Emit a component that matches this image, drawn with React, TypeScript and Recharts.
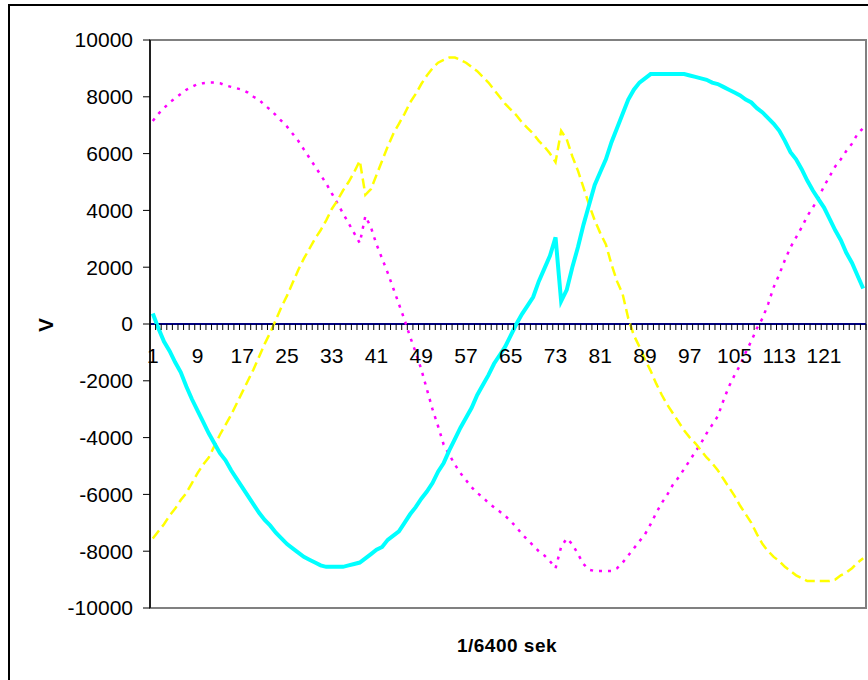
import { LineChart, Line, XAxis, YAxis, ReferenceLine } from 'recharts';

// sample numbers 1..128 (one 50 Hz period at 6400 samples/s)
const samples = Array.from({ length: 128 }, (_, i) => i + 1);
const labeledSamples = [1, 9, 17, 25, 33, 41, 49, 57, 65, 73, 81, 89, 97, 105, 113, 121];
const voltTicks = [-10000, -8000, -6000, -4000, -2000, 0, 2000, 4000, 6000, 8000, 10000];

const phaseCyan = [
  370, -150, -620, -950, -1350, -1700, -2200, -2650, -3050, -3450,
  -3850, -4200, -4550, -4800, -5150, -5450, -5750, -6050, -6350, -6650,
  -6900, -7100, -7350, -7550, -7750, -7900, -8050, -8200, -8300, -8400,
  -8500, -8550, -8550, -8550, -8550, -8500, -8450, -8400, -8250, -8100,
  -7950, -7850, -7600, -7450, -7300, -7000, -6700, -6450, -6150, -5900,
  -5600, -5200, -4900, -4450, -4050, -3650, -3300, -2950, -2500, -2150,
  -1800, -1400, -1100, -800, -400, 0, 350, 650, 950, 1500,
  1950, 2400, 3050, 800, 1200, 2000, 2700, 3500, 4200, 4900,
  5350, 5800, 6400, 6900, 7400, 7900, 8250, 8500, 8650, 8800,
  8800, 8800, 8800, 8800, 8800, 8800, 8750, 8700, 8650, 8600,
  8500, 8450, 8350, 8250, 8150, 8050, 7900, 7800, 7600, 7450,
  7250, 7050, 6800, 6450, 6050, 5800, 5450, 5050, 4700, 4400,
  4100, 3700, 3300, 2950, 2500, 2150, 1700, 1250,
];

const phaseMagenta = [
  7150, 7400, 7600, 7800, 7950, 8100, 8250, 8350, 8450, 8480,
  8500, 8500, 8480, 8400, 8350, 8300, 8250, 8150, 8000, 7900,
  7700, 7550, 7350, 7150, 6950, 6700, 6450, 6150, 5850, 5550,
  5250, 4950, 4600, 4250, 3900, 3550, 3200, 2850, 3800, 3400,
  2800, 2300, 1800, 1250, 700, 150, -450, -1000, -1600, -2300,
  -3000, -3600, -4250, -4600, -4950, -5250, -5500, -5750, -5950, -6100,
  -6300, -6450, -6600, -6750, -6950, -7150, -7400, -7600, -7800, -8000,
  -8150, -8350, -8600, -7850, -7550, -7750, -8100, -8450, -8650, -8700,
  -8700, -8700, -8700, -8600, -8400, -8150, -7900, -7650, -7400, -7050,
  -6650, -6300, -6000, -5650, -5400, -5100, -4800, -4500, -4200, -3850,
  -3550, -3250, -2700, -2200, -1800, -1450, -1000, -600, -150, 200,
  700, 1300, 1750, 2250, 2700, 3050, 3400, 3800, 4100, 4450,
  4850, 5200, 5550, 5800, 6100, 6350, 6700, 6900,
];

const phaseYellow = [
  -7550, -7300, -7050, -6750, -6500, -6200, -5950, -5600, -5250, -4950,
  -4700, -4300, -3900, -3550, -3200, -2800, -2400, -2000, -1600, -1150,
  -700, -300, 150, 600, 1000, 1450, 1900, 2300, 2650, 3000,
  3300, 3650, 4050, 4350, 4700, 5000, 5350, 5750, 4550, 4750,
  5250, 5750, 6250, 6700, 7050, 7400, 7800, 8100, 8450, 8750,
  9000, 9200, 9300, 9380, 9380, 9300, 9200, 9050, 8900, 8700,
  8500, 8250, 8000, 7750, 7550, 7350, 7100, 6900, 6700, 6450,
  6250, 6000, 5700, 6800, 6500, 5900, 5400, 4800, 4200, 3650,
  3200, 2800, 2100, 1500, 1050, 200, -400, -800, -1250, -1650,
  -2100, -2500, -2850, -3150, -3450, -3750, -4000, -4200, -4450, -4700,
  -4900, -5150, -5450, -5750, -6050, -6400, -6700, -7000, -7400, -7750,
  -8000, -8200, -8350, -8550, -8700, -8850, -8950, -9050, -9050, -9050,
  -9050, -9050, -9000, -8850, -8750, -8600, -8400, -8250,
];

const data = samples.map((t, i) => ({
  t,
  cyan: phaseCyan[i],
  magenta: phaseMagenta[i],
  yellow: phaseYellow[i],
}));

const W = 868;
const H = 680;
const M = { top: 40, right: 2, bottom: 52, left: 80 };
const Y_AXIS_W = 70;
const X_AXIS_H = 20;
const PLOT_LEFT = M.left + Y_AXIS_W;
const PLOT_W = W - PLOT_LEFT - M.right;
const PLOT_H = H - M.top - M.bottom - X_AXIS_H;
const ZERO_Y = M.top + PLOT_H / 2;
const STEP = PLOT_W / samples.length;
const FONT = '"Liberation Sans", Arial, sans-serif';

// x ticks are drawn on the zero line, like Excel's "axis crosses at 0"
function SampleTick(props: any) {
  const { x, payload, index } = props;
  const showLabel = labeledSamples.includes(payload.value);
  return (
    <g>
      <line x1={x - STEP / 2} x2={x - STEP / 2} y1={ZERO_Y} y2={ZERO_Y + 6} stroke="#000" strokeWidth={1} />
      {index === samples.length - 1 && (
        <line x1={x + STEP / 2} x2={x + STEP / 2} y1={ZERO_Y} y2={ZERO_Y + 6} stroke="#000" strokeWidth={1} />
      )}
      {showLabel && (
        <text x={x} y={ZERO_Y + 31} textAnchor="middle" dominantBaseline="central" fill="#000" fontSize={21} fontFamily={FONT}>
          {payload.value}
        </text>
      )}
    </g>
  );
}

export default function App() {
  return (
    <div style={{ position: 'fixed', left: 0, top: 0, width: W, height: H, background: '#fff', fontFamily: FONT }}>
      {/* chart area frame */}
      <div style={{ position: 'absolute', left: 8, top: 4, width: 860, height: 676, borderLeft: '2px solid #000', borderTop: '2px solid #000', boxSizing: 'border-box' }} />
      {/* plot area border */}
      <div style={{ position: 'absolute', left: PLOT_LEFT - 1, top: M.top - 1, width: PLOT_W + 2, height: PLOT_H + 2, border: '2px solid #808080', boxSizing: 'border-box' }} />

      <div style={{ position: 'absolute', left: 0, top: 0 }}>
        <LineChart width={W} height={H} data={data} margin={M}>
          <XAxis
            dataKey="t"
            height={X_AXIS_H}
            interval={0}
            axisLine={false}
            tickLine={false}
            tick={<SampleTick />}
            padding={{ left: STEP / 2, right: STEP / 2 }}
          />
          <YAxis
            width={Y_AXIS_W}
            domain={[-10000, 10000]}
            ticks={voltTicks}
            interval={0}
            axisLine={{ stroke: '#000', strokeWidth: 1.5 }}
            tickLine={{ stroke: '#000' }}
            tickSize={7}
            tickMargin={10}
            tick={{ fill: '#000', fontSize: 21, fontFamily: FONT }}
          />
          <ReferenceLine y={0} stroke="#000080" strokeWidth={2} />
          <Line dataKey="magenta" stroke="#FF00FF" strokeWidth={2.5} strokeDasharray="3 6" dot={false} isAnimationActive={false} />
          <Line dataKey="yellow" stroke="#FFFF00" strokeWidth={2.5} strokeDasharray="10 5" dot={false} isAnimationActive={false} />
          <Line dataKey="cyan" stroke="#00FFFF" strokeWidth={4} dot={false} isAnimationActive={false} />
        </LineChart>
      </div>

      <div style={{ position: 'absolute', left: 45, top: 325, transform: 'translate(-50%, -50%) rotate(-90deg)', fontWeight: 'bold', fontSize: 21, lineHeight: 1 }}>
        V
      </div>
      <div style={{ position: 'absolute', left: 507, top: 645, transform: 'translate(-50%, -50%)', fontWeight: 'bold', fontSize: 19, lineHeight: 1, whiteSpace: 'nowrap', letterSpacing: 0.5 }}>
        1/6400 sek
      </div>
    </div>
  );
}
